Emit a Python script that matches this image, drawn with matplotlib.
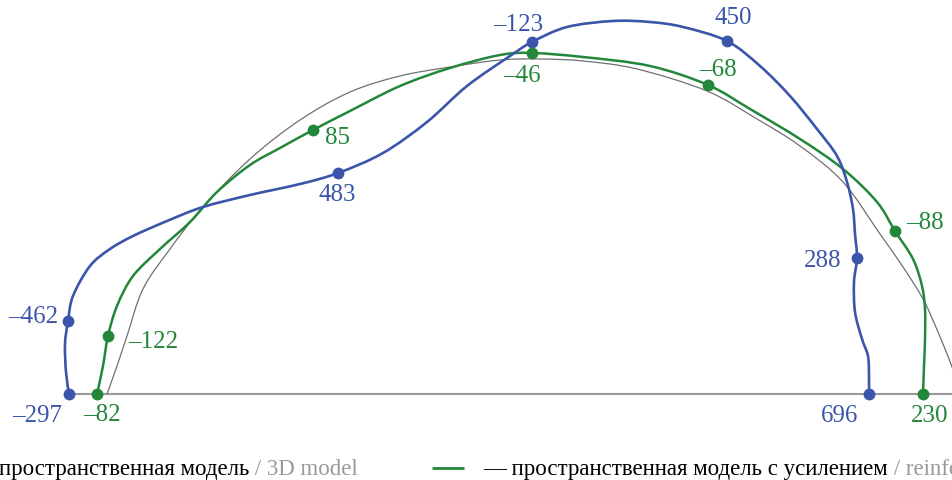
import numpy as np
import matplotlib
matplotlib.use('Agg')
import matplotlib.pyplot as plt
from matplotlib.path import Path
from matplotlib.patches import PathPatch

plt.rcParams['font.family'] = ['Liberation Serif', 'DejaVu Serif']

# Контуры (координаты в пикселях рисунка, y вниз)
gray_x = [107, 117, 127, 143, 170, 203, 250, 300, 350, 400, 450, 500, 540, 583, 637, 707, 757, 800, 843, 880, 903, 923, 938, 952, 960]
gray_y = [395, 367, 337, 290, 250, 208, 160, 121, 93, 77, 68, 61, 60, 62, 70, 92, 120, 147, 183, 235, 268, 300, 333, 368, 395]

blue_x = [69, 66, 65, 68, 73, 90, 110, 133, 167, 203, 250, 300, 338, 383, 427, 467, 510, 532, 567, 613, 650, 683, 727,
          760, 790, 817, 837, 847, 853, 855, 857, 854, 855, 862, 868, 869, 869]
blue_y = [395, 373, 345, 322, 297, 267, 250, 237, 222, 208, 196, 185, 174, 154, 123, 87, 57, 43, 28, 22, 23, 28, 42,
          67, 97, 130, 157, 183, 210, 235, 259, 283, 313, 340, 357, 377, 395]

green_x = [97, 103, 108, 117, 133, 160, 190, 217, 250, 280, 313, 350, 400, 450, 500, 532, 583, 650, 708, 750, 800,
           843, 877, 895, 913, 922, 925, 925, 924, 923]
green_y = [395, 367, 337, 307, 277, 250, 223, 193, 166, 149, 131, 112, 87, 69, 56, 54, 58, 67, 86, 110, 140,
           170, 203, 232, 260, 287, 310, 340, 367, 395]

# Точки с подписями
blue_pts_x = [69, 68, 338, 532, 727, 857, 869]
blue_pts_y = [395, 322, 174, 43, 42, 259, 395]
blue_vals = ['–297', '–462', '483', '–123', '450', '288', '696']
blue_off = [(-32, 21), (-35, -5), (-1, 21), (-14, -18), (6, -24), (-34, 2), (-29, 21)]

green_pts_x = [97, 108, 313, 532, 708, 895, 923]
green_pts_y = [395, 337, 131, 54, 86, 232, 395]
green_vals = ['–82', '–122', '85', '–46', '–68', '–88', '230']
green_off = [(5, 20), (45, 5), (25, 7), (-10, 22), (10, -16), (30, -9), (7, 21)]

BLUE = '#3b55aa'
GREEN = '#23873a'


def smooth_path(xs, ys):
    p = np.column_stack([xs, ys]).astype(float)
    verts = [p[0]]
    codes = [Path.MOVETO]
    n = len(p)
    for i in range(n - 1):
        p0 = p[i - 1] if i > 0 else p[i]
        p3 = p[i + 2] if i + 2 < n else p[i + 1]
        c1 = p[i] + (p[i + 1] - p0) / 6
        c2 = p[i + 1] - (p3 - p[i]) / 6
        verts += [c1, c2, p[i + 1]]
        codes += [Path.CURVE4] * 3
    return Path(verts, codes)


fig = plt.figure(figsize=(9.52, 4.81), dpi=100)
ax = fig.add_axes([0, 0, 1, 1])
ax.set_xlim(0, 952)
ax.set_ylim(481, 0)
ax.axis('off')

# опорная линия
ax.plot([69, 960], [395, 395], color='#999999', lw=1.5, solid_capstyle='butt', zorder=1)

ax.add_patch(PathPatch(smooth_path(gray_x, gray_y), fc='none', ec='#707070', lw=0.9, zorder=2))
ax.add_patch(PathPatch(smooth_path(green_x, green_y), fc='none', ec=GREEN, lw=1.8, zorder=3))
ax.add_patch(PathPatch(smooth_path(blue_x, blue_y), fc='none', ec=BLUE, lw=1.9, zorder=4))

for xs, ys, vals, offs, col in [(blue_pts_x, blue_pts_y, blue_vals, blue_off, BLUE),
                                (green_pts_x, green_pts_y, green_vals, green_off, GREEN)]:
    ax.plot(xs, ys, 'o', color=col, ms=7.5, zorder=5)
    for x, y, v, (dx, dy) in zip(xs, ys, vals, offs):
        ax.text(x + dx, y + dy, v, color=col, fontsize=18, ha='center', va='center')

# легенда
renderer = fig.canvas.get_renderer()


def chain(x, y, parts):
    for s, c in parts:
        t = ax.text(x, y, s, color=c, fontsize=16.5, ha='left', va='baseline')
        x = t.get_window_extent(renderer).x1
    return x


chain(-1, 475, [('пространственная модель', 'black'), (' / 3D model', '#999999')])
ax.plot([432, 464], [469, 469], color=GREEN, lw=2, solid_capstyle='butt')
chain(483, 475, [('— пространственная модель с усилением', 'black'), (' / reinforced 3D model', '#999999')])

fig.savefig('out.png', dpi=100)
